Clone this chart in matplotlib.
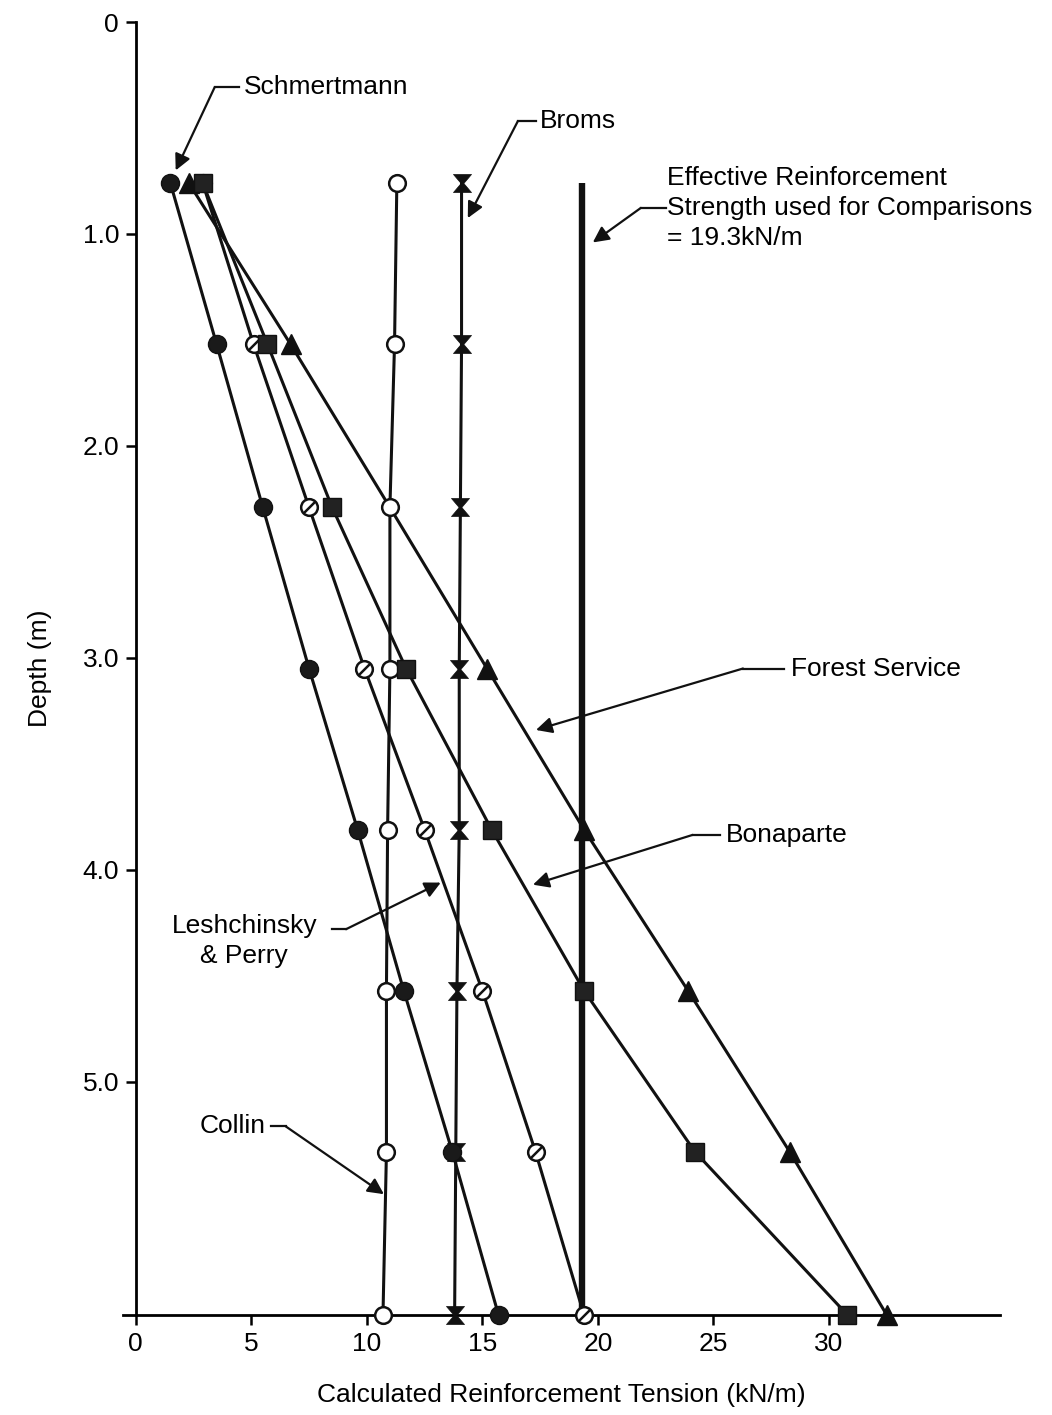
import numpy as np
import matplotlib
matplotlib.use("Agg")
import matplotlib.pyplot as plt
from matplotlib.path import Path

plt.rcParams['font.family'] = ['Liberation Sans', 'DejaVu Sans']

# depth of each reinforcement layer (m)
depth = [0.76, 1.52, 2.29, 3.05, 3.81, 4.57, 5.33, 6.10]

schmertmann = [1.5, 3.5, 5.5, 7.5, 9.6, 11.6, 13.7, 15.7]
forest = [2.3, 6.7, 11.0, 15.2, 19.4, 23.9, 28.3, 32.5]
bonaparte = [2.9, 5.7, 8.5, 11.7, 15.4, 19.4, 24.2, 30.8]
leshchinsky = [2.9, 5.1, 7.5, 9.9, 12.5, 15.0, 17.3, 19.4]
collin = [11.3, 11.2, 11.0, 11.0, 10.9, 10.85, 10.85, 10.7]
broms = [14.1, 14.1, 14.05, 14.0, 14.0, 13.9, 13.85, 13.8]
effective = 19.3

xticks = [0, 5, 10, 15, 20, 25, 30]
yticks = [0, 1.0, 2.0, 3.0, 4.0, 5.0]
ylabels = ["0", "1.0", "2.0", "3.0", "4.0", "5.0"]

blk = '#111111'
lw = 2.2
ms = 12
fs = 19

fig = plt.figure(figsize=(10.52, 14.15), dpi=100)
ax = fig.add_axes([123/1052, 1 - 1315/1415, (1000-123)/1052, (1315-22)/1415])

slash = Path([(-0.75, -0.75), (0.75, 0.75)], [Path.MOVETO, Path.LINETO])
bowtie = Path([(-1, 1), (1, 1), (0.15, 0), (1, -1), (-1, -1), (-0.15, 0), (-1, 1)],
              [Path.MOVETO] + [Path.LINETO] * 5 + [Path.CLOSEPOLY])

# effective strength line
ax.plot([effective, effective], [depth[0], depth[-1]], color=blk, lw=4.6, zorder=2,
        solid_capstyle='butt', clip_on=False)

ax.plot(forest, depth, color=blk, lw=lw, marker='^', ms=ms+3, mfc=blk, mec=blk,
        markevery=[0, 1, 3, 4, 5, 6, 7], zorder=3, clip_on=False)
ax.plot(collin, depth, color=blk, lw=lw, marker='o', ms=ms, mfc='white', mec=blk,
        mew=1.8, zorder=4, clip_on=False)
ax.plot(leshchinsky, depth, color=blk, lw=lw, marker='o', ms=ms, mfc='white', mec=blk,
        mew=1.8, zorder=4, clip_on=False)
ax.plot(leshchinsky, depth, ls='none', marker=slash, ms=ms-3, mec=blk, mew=1.8,
        zorder=4, clip_on=False)
ax.plot(bonaparte, depth, color=blk, lw=lw, marker='s', ms=ms+1, mfc='#222222', mec=blk,
        zorder=5, clip_on=False)
ax.plot(broms, depth, color=blk, lw=lw, marker=bowtie, ms=ms+1, mfc=blk, mec=blk,
        mew=0.5, zorder=5, clip_on=False)
ax.plot(schmertmann, depth, color=blk, lw=lw, marker='o', ms=ms+1, mfc='#1a1a1a', mec=blk,
        zorder=5, clip_on=False)

ax.set_xlim(-0.55, 37.4)
ax.set_ylim(6.1, 0)
ax.spines['left'].set_position(('data', 0))
ax.spines['left'].set_bounds(0, 6.1)
for s in ['top', 'right']:
    ax.spines[s].set_visible(False)
for s in ['left', 'bottom']:
    ax.spines[s].set_linewidth(2.0)

ax.set_xticks(xticks)
ax.set_yticks(yticks)
ax.set_yticklabels(ylabels)
ax.tick_params(axis='both', direction='out', length=7, width=1.8, labelsize=fs, pad=5)

ax.set_xlabel("Calculated Reinforcement Tension (kN/m)", fontsize=fs, labelpad=20)
ax.set_ylabel("Depth (m)", fontsize=fs, labelpad=22)


def arrow(start, tip):
    ax.annotate("", xy=tip, xytext=start,
                arrowprops=dict(arrowstyle='-|>', color=blk, lw=1.6,
                                mutation_scale=24, shrinkA=0, shrinkB=0))


def leader(label, tx, ty, x0, x1, tip):
    ax.text(tx, ty, label, fontsize=fs, ha='left', va='center', linespacing=1.3)
    ax.plot([x0, x1], [ty, ty], color=blk, lw=1.6)
    arrow((x0, ty), tip)


leader("Schmertmann", 4.68, 0.307, 3.42, 4.46, (1.73, 0.70))
leader("Broms", 17.49, 0.467, 16.54, 17.32, (14.37, 0.925))
leader("Effective Reinforcement\nStrength used for Comparisons\n= 19.3kN/m",
       23.0, 0.877, 21.86, 22.94, (19.78, 1.04))
leader("Forest Service", 28.35, 3.05, 26.28, 28.05, (17.32, 3.34))
leader("Bonaparte", 25.54, 3.835, 24.1, 25.3, (17.19, 4.07))

ax.text(4.7, 4.335, "Leshchinsky\n& Perry", fontsize=fs, ha='center', va='center',
        linespacing=1.3)
ax.plot([8.5, 9.1], [4.28, 4.28], color=blk, lw=1.6)
arrow((9.1, 4.28), (13.2, 4.06))

ax.text(5.63, 5.21, "Collin", fontsize=fs, ha='right', va='center')
ax.plot([5.84, 6.49], [5.21, 5.21], color=blk, lw=1.6)
arrow((6.49, 5.21), (10.74, 5.53))

fig.savefig("out.png", dpi=100)
